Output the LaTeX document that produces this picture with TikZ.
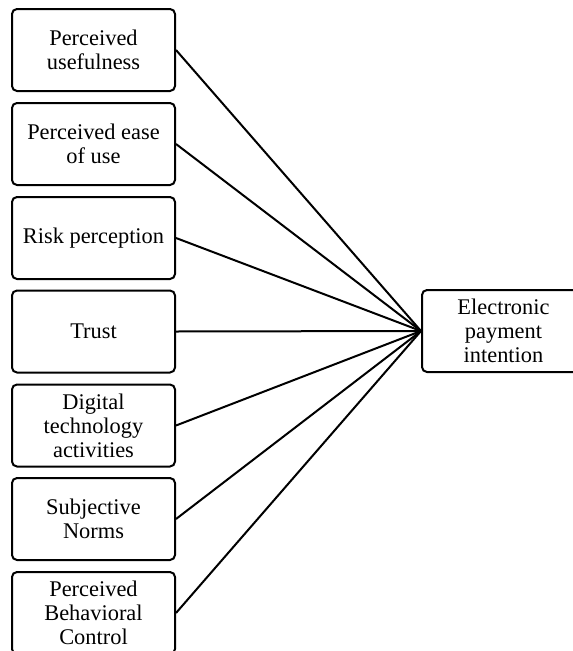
\documentclass[tikz,border=0pt]{standalone}
\usepackage{fontspec}
\setmainfont{Liberation Serif}
\begin{document}
\begin{tikzpicture}[x=1pt,y=-1pt,
  box/.style={draw, line width=2pt, rounded corners=5pt, minimum width=163pt, minimum height=82pt, align=center, inner sep=0pt, font=\fontsize{22.4}{24}\selectfont},
  link/.style={line width=2pt}]
\useasboundingbox (0,0) rectangle (573,651);
\node[box] (a) at (93.5,50) {Perceived\\usefulness};
\node[box] (b) at (93.5,144) {Perceived ease\\of use};
\node[box] (c) at (93.5,238) {Risk perception};
\node[box] (d) at (93.5,331.5) {Trust};
\node[box] (e) at (93.5,425.5) {Digital\\technology\\activities};
\node[box] (f) at (93.5,519) {Subjective\\Norms};
\node[box] (g) at (93.5,613) {Perceived\\Behavioral\\Control};
\node[box] (t) at (503.5,331) {Electronic\\payment\\intention};
\foreach \n in {a,b,c,d,e,f,g} \draw[link] (\n.east) -- (t.west);
\end{tikzpicture}
\end{document}
